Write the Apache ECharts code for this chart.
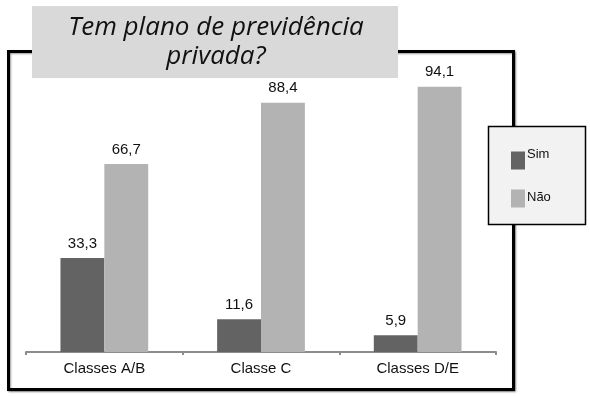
<!DOCTYPE html>
<html><head><meta charset="utf-8">
<script src="https://cdn.jsdelivr.net/npm/echarts@6/dist/echarts.min.js"></script>
<style>html,body{margin:0;padding:0;background:#fff}#c{width:590px;height:396px}</style>
</head><body><div id="c"></div>
<script>
const categories = ['Classes A/B', 'Classe C', 'Classes D/E'];
const simValues = [33.3, 11.6, 5.9];
const naoValues = [66.7, 88.4, 94.1];
const seriesNames = ['Sim', 'Não'];
const titleLines = ['Tem plano de previdência', 'privada?'];

const chart = echarts.init(document.getElementById('c'), null, {renderer: 'canvas'});
const fmt = p => String(p.value).replace('.', ',');
const FF = 'Liberation Sans, Arial, sans-serif';
const labelCfg = {show: true, position: 'top', distance: 7, formatter: fmt,
  color: '#111', fontSize: 15, fontFamily: FF};
chart.setOption({
  animation: false,
  grid: {left: 26, right: 94, top: 70, bottom: 44},
  xAxis: {
    type: 'category', data: categories,
    axisLine: {lineStyle: {color: '#8c8c8c', width: 2}},
    axisTick: {show: true, length: 3, lineStyle: {color: '#8c8c8c', width: 2}},
    axisLabel: {color: '#111', fontSize: 15, margin: 9, fontFamily: FF}
  },
  yAxis: {type: 'value', min: 0, max: 100, show: false, splitLine: {show: false}},
  legend: {
    orient: 'vertical', left: 506, top: 143, itemWidth: 14, itemHeight: 18, itemGap: 20,
    icon: 'rect', data: seriesNames,
    formatter: name => name === seriesNames[0] ? '{s|' + name + '}' : '{n|' + name + '}',
    textStyle: {color: '#111', fontSize: 13, fontFamily: FF,
      rich: {
        s: {fontSize: 13, color: '#111', padding: [0, 0, 12, -3], fontFamily: FF},
        n: {fontSize: 13, color: '#111', padding: [0, 0, 2, -3], fontFamily: FF}
      }}
  },
  graphic: [
    {type: 'rect', z: -10, shape: {x: 8.5, y: 51.5, width: 505, height: 338},
     style: {fill: '#fff', stroke: '#000', lineWidth: 3, shadowBlur: 2, shadowOffsetX: 1, shadowOffsetY: 1, shadowColor: 'rgba(0,0,0,0.4)'}},
    {type: 'rect', z: 10, shape: {x: 32, y: 6, width: 366, height: 72}, style: {fill: '#d9d9d9'}},
    {type: 'text', z: 11, x: 216, y: 13, style: {text: titleLines.join('\n'), textAlign: 'center', textVerticalAlign: 'top',
      fill: '#111', font: 'italic 26px "Open Sans", sans-serif', lineHeight: 29}},
    {type: 'rect', z: -5, shape: {x: 488.5, y: 126.5, width: 97, height: 98},
     style: {fill: '#f2f2f2', stroke: '#000', lineWidth: 1.5}}
  ],
  series: [
    {name: seriesNames[0], type: 'bar', data: simValues, barWidth: '28%', barGap: '0%',
     itemStyle: {color: '#636363'}, label: labelCfg},
    {name: seriesNames[1], type: 'bar', data: naoValues, barWidth: '28%',
     itemStyle: {color: '#b3b3b3'}, label: labelCfg}
  ]
});
</script></body></html>
